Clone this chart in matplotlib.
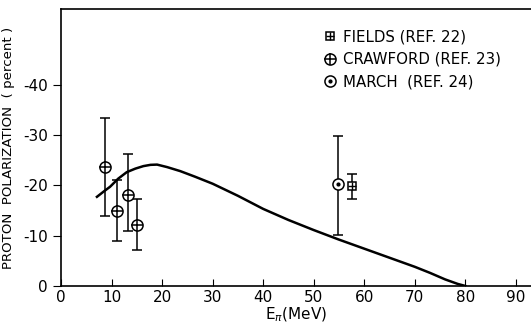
import matplotlib.pyplot as plt
from matplotlib.legend_handler import HandlerTuple

# polarization magnitudes (axis labels carry the minus sign)
# theory curve
curve_e = [7.1, 8.5, 9.7, 11.3, 13.0, 14.7, 16.3, 17.7, 19.0, 21.0, 23.6, 26.5,
           30, 35, 40, 45, 50, 55, 60, 65, 70, 73, 76, 78.5, 80]
curve_p = [17.7, 18.8, 19.7, 21.3, 22.6, 23.3, 23.8, 24.05, 24.1, 23.6, 22.8, 21.7,
           20.3, 17.9, 15.3, 13.1, 11.1, 9.2, 7.4, 5.6, 3.8, 2.6, 1.3, 0.4, 0.0]

# Crawford (ref. 23)
craw_e = [8.7, 11.0, 13.3, 15.1]
craw_p = [23.6, 14.9, 18.0, 12.2]
craw_lo = [13.9, 9.0, 10.9, 7.2]
craw_hi = [33.3, 21.1, 26.3, 17.2]

# March (ref. 24)
march_e = [54.9]
march_p = [20.2]
march_lo = [10.2]
march_hi = [29.8]

# Fields (ref. 22)
fields_e = [57.6]
fields_p = [19.8]
fields_lo = [17.2]
fields_hi = [22.2]

xticks = [0, 10, 20, 30, 40, 50, 60, 70, 80, 90]
yticks = [0, 10, 20, 30, 40]
ylabels = ['0', '-10', '-20', '-30', '-40']

plt.rcParams['font.family'] = 'DejaVu Sans'

fig = plt.figure(figsize=(5.31, 3.22), dpi=100)
ax = fig.add_axes([0.115, 0.112, 0.885, 0.86])


def err(p, lo, hi):
    return [[a - b for a, b in zip(p, lo)], [b - a for a, b in zip(p, hi)]]


ax.plot(curve_e, curve_p, 'k-', lw=1.8)

ax.errorbar(craw_e, craw_p, yerr=err(craw_p, craw_lo, craw_hi), fmt='none',
            ecolor='k', elinewidth=1.1, capsize=3.5, capthick=1.1)
ax.errorbar(march_e, march_p, yerr=err(march_p, march_lo, march_hi), fmt='none',
            ecolor='k', elinewidth=1.1, capsize=3.5, capthick=1.1)
ax.errorbar(fields_e, fields_p, yerr=err(fields_p, fields_lo, fields_hi), fmt='none',
            ecolor='k', elinewidth=1.1, capsize=3.5, capthick=1.1)

c1, = ax.plot(craw_e, craw_p, 'o', ms=8, mfc='white', mec='k', mew=1.1)
c2, = ax.plot(craw_e, craw_p, '+', ms=8, mec='k', mew=1.1)
m1, = ax.plot(march_e, march_p, 'o', ms=8, mfc='white', mec='k', mew=1.1)
m2, = ax.plot(march_e, march_p, '.', ms=4, color='k')
f1, = ax.plot(fields_e, fields_p, 's', ms=6, mfc='white', mec='k', mew=1.1)
f2, = ax.plot(fields_e, fields_p, '+', ms=6, mec='k', mew=1.0)

ax.legend([(f1, f2), (c1, c2), (m1, m2)],
          ['FIELDS (REF. 22)', 'CRAWFORD (REF. 23)', 'MARCH  (REF. 24)'],
          handler_map={tuple: HandlerTuple(ndivide=1)},
          loc='upper left', bbox_to_anchor=(0.53, 0.975), frameon=False,
          handlelength=0.8, handletextpad=0.5, labelspacing=0.5, fontsize=10.8)

ax.set_xlim(0, 93)
ax.set_ylim(0, 55)
ax.set_xticks(xticks)
ax.set_yticks(yticks)
ax.set_yticklabels(ylabels)
ax.tick_params(axis='x', direction='in', length=5, labelsize=11, pad=3)
ax.tick_params(axis='y', direction='out', length=6, labelsize=11)
ax.spines['right'].set_visible(False)
for s in ['left', 'bottom', 'top']:
    ax.spines[s].set_linewidth(1.2)

ax.set_xlabel(r'E$_{\pi}$(MeV)', fontsize=11, labelpad=0)
ax.set_ylabel('PROTON  POLARIZATION  ( percent )', fontsize=9.6, labelpad=6)

fig.savefig('out.png', dpi=100)
